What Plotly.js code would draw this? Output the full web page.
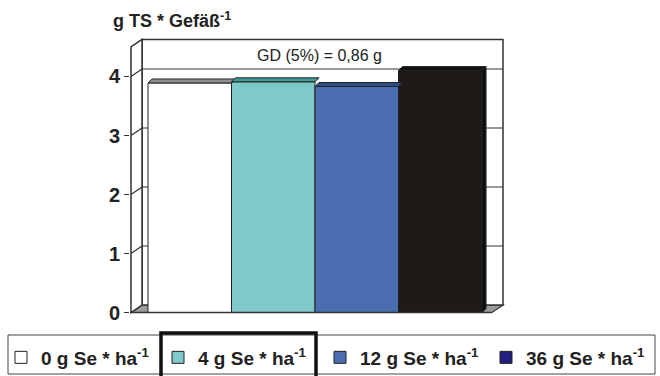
<!DOCTYPE html>
<html>
<head>
<meta charset="utf-8">
<script src="https://cdn.plot.ly/plotly-3.0.1.min.js"></script>
<style>html,body{margin:0;padding:0;background:#fff;}#chart{width:660px;height:376px;}</style>
</head>
<body>
<div id="chart"></div>
<script>
// ---- data ----
const categories = ['0 g Se * ha<sup>-1</sup>', '4 g Se * ha<sup>-1</sup>', '12 g Se * ha<sup>-1</sup>', '36 g Se * ha<sup>-1</sup>'];
const values = [3.89, 3.91, 3.83, 4.10];
const barColors = ['#ffffff', '#80c9cb', '#4b6eb1', '#1e1a18'];
const topColors = ['#8e8e8e', '#3f9a98', '#2d4c8c', '#151210'];
const legendColors = ['#ffffff', '#80c9cb', '#4b6eb1', '#231f7e'];
const yTicks = [0, 1, 2, 3, 4];
const gdText = 'GD (5%) = 0,86 g';
const titleText = 'g TS * Gefäß<sup>-1</sup>';

// ---- geometry (axis units) ----
const X_MIN = -0.7156, X_MAX = 3.835, Y_MIN = -0.127, Y_MAX = 4.788;
const PXX = 83.5, PXY = 59;
const DX = 11 / PXX, DY = 7.5 / PXY;      // wall depth
const BDX = 4 / PXX, BDY = 4 / PXY;       // bar depth
const xF = X_MIN + 1 / PXX;               // front-left edge
const xB = xF + DX;                       // back-left edge
const xBR = 3.751, xFR = xBR - DX;        // right edges
const WALL = 4.5;
const edge = '#333333';
const legendIds = ['legend', 'legend2', 'legend3', 'legend4'];
const legendX = [1, 158, 320, 486];       // px positions of legend entries

const traces = [];
// bars (front faces)
values.forEach((v, i) => {
  traces.push({
    type: 'bar', x: [i], y: [v], width: [1],
    marker: {color: barColors[i], line: {color: '#222', width: 1}},
    showlegend: false, hoverinfo: 'skip'
  });
});
// bar top faces
values.forEach((v, i) => {
  traces.push({
    type: 'scatter', mode: 'lines', fill: 'toself', fillcolor: topColors[i],
    x: [i - 0.5, i - 0.5 + BDX, i + 0.5 + BDX, i + 0.5, i - 0.5],
    y: [v, v + BDY, v + BDY, v, v],
    line: {color: '#222', width: 1}, showlegend: false, hoverinfo: 'skip'
  });
});
// right side face of last bar
const li = values.length - 1, lv = values[li];
traces.push({
  type: 'scatter', mode: 'lines', fill: 'toself', fillcolor: '#0f0c0b',
  x: [li + 0.5, li + 0.5 + BDX, li + 0.5 + BDX, li + 0.5, li + 0.5],
  y: [0, BDY, lv + BDY, lv, 0],
  line: {color: '#222', width: 1}, showlegend: false, hoverinfo: 'skip'
});
// legend entries
categories.forEach((c, i) => {
  traces.push({
    type: 'bar', x: [null], y: [null], name: c, legend: legendIds[i],
    marker: {color: legendColors[i], line: {color: '#222', width: 1}},
    showlegend: true, hoverinfo: 'skip'
  });
});

const shapes = [];
// floor
shapes.push({type: 'path', xref: 'x', yref: 'y', layer: 'below',
  path: `M${xF},0 L${xB},${DY} L${xBR},${DY} L${xFR},0 Z`,
  fillcolor: '#9c9c9c', line: {color: edge, width: 1.2}});
// back wall
shapes.push({type: 'rect', xref: 'x', yref: 'y', layer: 'below',
  x0: xB, x1: xBR, y0: DY, y1: WALL + DY, fillcolor: '#ffffff', line: {color: edge, width: 1.5}});
// side wall
shapes.push({type: 'path', xref: 'x', yref: 'y', layer: 'below',
  path: `M${xF},0 L${xF},${WALL} L${xB},${WALL + DY} L${xB},${DY} Z`,
  fillcolor: '#ffffff', line: {color: edge, width: 1.5}});
// gridlines
yTicks.filter(t => t > 0).forEach(t => {
  shapes.push({type: 'line', xref: 'x', yref: 'y', layer: 'below',
    x0: xB, x1: xBR, y0: t + DY, y1: t + DY, line: {color: edge, width: 1.2}});
  shapes.push({type: 'line', xref: 'x', yref: 'y', layer: 'below',
    x0: xF, x1: xB, y0: t, y1: t + DY, line: {color: edge, width: 1.2}});
});
// floor front line on top
shapes.push({type: 'line', xref: 'x', yref: 'y', layer: 'above',
  x0: xF, x1: xFR, y0: 0, y1: 0, line: {color: edge, width: 1.5}});
// legend box
const px2x = p => (p - 130) / 380, px2y = p => (320 - p) / 290;
shapes.push({type: 'rect', xref: 'paper', yref: 'paper',
  x0: px2x(8), x1: px2x(655), y0: px2y(335), y1: px2y(374),
  line: {color: '#444', width: 1}, fillcolor: 'rgba(0,0,0,0)'});
// highlighted legend item
shapes.push({type: 'rect', xref: 'paper', yref: 'paper',
  x0: px2x(161), x1: px2x(316), y0: px2y(333), y1: px2y(380),
  line: {color: '#111', width: 3.5}, fillcolor: 'rgba(0,0,0,0)'});

const legendFont = {family: 'Liberation Sans, Arial, sans-serif', size: 19, weight: 'bold', color: '#222'};

const layout = {
  width: 660, height: 376,
  margin: {l: 130, r: 150, t: 30, b: 56, pad: 0, autoexpand: false},
  paper_bgcolor: '#ffffff', plot_bgcolor: 'rgba(0,0,0,0)',
  barmode: 'overlay',
  font: {family: 'Liberation Sans, Arial, sans-serif', color: '#222'},
  title: {text: titleText, xref: 'container', yref: 'container', x: 113 / 660, xanchor: 'left',
    y: 1 - 21 / 376, yanchor: 'middle',
    font: {family: 'Liberation Sans, Arial, sans-serif', size: 18, weight: 'bold', color: '#222'}},
  xaxis: {range: [X_MIN, X_MAX], showgrid: false, zeroline: false, showticklabels: false, ticks: '', showline: false, fixedrange: true},
  yaxis: {range: [Y_MIN, Y_MAX], tickvals: yTicks, ticktext: yTicks.map(String), ticks: 'outside', ticklen: 5,
    tickcolor: edge, tickwidth: 1.2, showgrid: false, zeroline: false, showline: false,
    tickfont: {family: 'Liberation Sans, Arial, sans-serif', size: 20, weight: 'bold', color: '#222'}},
  showlegend: true,
  annotations: [{text: gdText, xref: 'x', yref: 'y', x: 1.548, y: 4.36, showarrow: false,
    xanchor: 'center', yanchor: 'middle',
    font: {family: 'Liberation Sans, Arial, sans-serif', size: 16, color: '#222'}}],
  shapes: shapes
};
legendIds.forEach((id, i) => {
  layout[id] = {orientation: 'h', xref: 'container', yref: 'container', x: legendX[i] / 660, xanchor: 'left',
    y: 1 - 357.5 / 376, yanchor: 'middle', bgcolor: 'rgba(0,0,0,0)', borderwidth: 0, itemwidth: 30,
    font: legendFont, itemclick: false, itemdoubleclick: false};
});

Plotly.newPlot('chart', traces, layout, {staticPlot: true, displayModeBar: false});
</script>
</body>
</html>
